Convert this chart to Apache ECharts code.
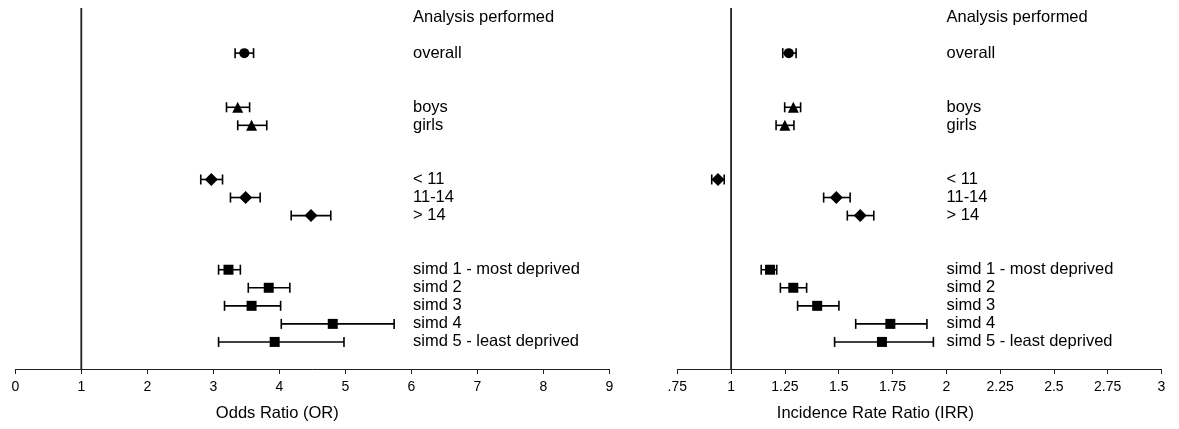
<!DOCTYPE html>
<html>
<head>
<meta charset="utf-8">
<script src="https://cdn.jsdelivr.net/npm/echarts@6/dist/echarts.min.js"></script>
<style>
  html, body { margin: 0; padding: 0; background: #fff; }
  #chart { width: 1179px; height: 429px; }
</style>
</head>
<body>
<div id="chart"></div>
<script>
// Row labels (top to bottom), gaps are empty strings
const rowLabels = ['Analysis performed', '', 'overall', '', '', 'boys', 'girls', '', '',
  '< 11', '11-14', '> 14', '', '', 'simd 1 - most deprived', 'simd 2', 'simd 3', 'simd 4',
  'simd 5 - least deprived', ''];

// Analysis groups
const groups = ['overall', 'boys', 'girls', '< 11', '11-14', '> 14',
  'simd 1 - most deprived', 'simd 2', 'simd 3', 'simd 4', 'simd 5 - least deprived'];

// Odds ratio (left panel)
const orEst = [3.47, 3.37, 3.58, 2.97, 3.49, 4.48, 3.23, 3.84, 3.58, 4.81, 3.93];
const orLo  = [3.33, 3.20, 3.37, 2.81, 3.26, 4.18, 3.08, 3.53, 3.17, 4.03, 3.08];
const orHi  = [3.61, 3.55, 3.81, 3.14, 3.71, 4.78, 3.41, 4.16, 4.02, 5.74, 4.98];

// Incidence rate ratio (right panel)
const irrEst = [1.268, 1.289, 1.250, 0.939, 1.489, 1.600, 1.181, 1.289, 1.400, 1.740, 1.701];
const irrLo  = [1.240, 1.249, 1.209, 0.910, 1.430, 1.540, 1.140, 1.229, 1.309, 1.579, 1.481];
const irrHi  = [1.302, 1.323, 1.292, 0.968, 1.553, 1.663, 1.212, 1.351, 1.501, 1.910, 1.940];

// Null-effect reference value (vertical line in both panels)
const nullValue = [1];

// Tick labels
const orTicks = ['0', '1', '2', '3', '4', '5', '6', '7', '8', '9'];
const irrTicks = ['.75', '1', '1.25', '1.5', '1.75', '2', '2.25', '2.5', '2.75', '3'];

// Marker style per group (style, not data)
const markerShapes = ['circle', 'triangle', 'triangle', 'diamond', 'diamond', 'diamond',
  'rect', 'rect', 'rect', 'rect', 'rect'];
const markerSizes = { circle: 10, triangle: 11, diamond: 13, rect: 10 };

const FONT = '"Liberation Sans", Arial, sans-serif';
const rowIndex = groups.map(g => rowLabels.indexOf(g));

function errData(lo, hi) {
  return groups.map((g, i) => [lo[i], hi[i], rowIndex[i]]);
}
function ptData(est) {
  return groups.map((g, i) => ({
    value: [est[i], rowIndex[i]],
    symbol: markerShapes[i],
    symbolSize: markerSizes[markerShapes[i]]
  }));
}

function renderErr(params, api) {
  const y = api.value(2);
  const a = api.coord([api.value(0), y]);
  const b = api.coord([api.value(1), y]);
  const h = 5;
  const st = { stroke: '#000', lineWidth: 1.6 };
  return {
    type: 'group',
    children: [
      { type: 'line', shape: { x1: a[0], y1: a[1], x2: b[0], y2: b[1] }, style: st },
      { type: 'line', shape: { x1: a[0], y1: a[1] - h, x2: a[0], y2: a[1] + h }, style: st },
      { type: 'line', shape: { x1: b[0], y1: b[1] - h, x2: b[0], y2: b[1] + h }, style: st }
    ]
  };
}

function renderRef(params, api) {
  const p = api.coord([api.value(0), 0]);
  const cs = params.coordSys;
  return {
    type: 'line',
    shape: { x1: p[0], y1: cs.y, x2: p[0], y2: cs.y + cs.height },
    style: { stroke: '#222', lineWidth: 1.8 }
  };
}

function xAxisDef(gridIndex, min, max, interval, ticks, name, padRight) {
  return {
    type: 'value', gridIndex, min, max, interval,
    axisLine: { show: true, onZero: false, lineStyle: { color: '#222', width: 1 } },
    axisTick: { show: true, length: 5, lineStyle: { color: '#222', width: 1 } },
    splitLine: { show: false },
    axisLabel: {
      margin: 11, color: '#000', fontFamily: FONT, fontSize: 14,
      formatter: v => ticks[Math.round((v - min) / interval)]
    },
    name, nameLocation: 'middle', nameGap: 36,
    nameTextStyle: { color: '#000', fontFamily: FONT, fontSize: 16.5, padding: [0, padRight, 0, 0] }
  };
}

function yAxisDef(gridIndex, offset) {
  return {
    type: 'category', gridIndex, data: rowLabels, inverse: true,
    position: 'right', offset,
    axisLine: { show: false }, axisTick: { show: false }, splitLine: { show: false },
    axisLabel: { interval: 0, margin: 0, color: '#000', fontFamily: FONT, fontSize: 16.5, align: 'left' }
  };
}

const chart = echarts.init(document.getElementById('chart'), null, { renderer: 'canvas' });
chart.setOption({
  animation: false,
  backgroundColor: '#fff',
  grid: [
    { left: 15.3, right: 1179 - 609.3, top: 8, bottom: 60, containLabel: false },
    { left: 677.3, right: 1179 - 1161.5, top: 8, bottom: 60, containLabel: false }
  ],
  xAxis: [
    xAxisDef(0, 0, 9, 1, orTicks, 'Odds Ratio (OR)', 70),
    xAxisDef(1, 0.75, 3, 0.25, irrTicks, 'Incidence Rate Ratio (IRR)', 88)
  ],
  yAxis: [
    yAxisDef(0, -(609.3 - 413)),
    yAxisDef(1, -(1161.5 - 946.5))
  ],
  series: [
    { type: 'custom', xAxisIndex: 0, yAxisIndex: 0, renderItem: renderRef,
      encode: { x: 0 }, data: nullValue.map(v => [v]), z: 1, silent: true },
    { type: 'custom', xAxisIndex: 0, yAxisIndex: 0, renderItem: renderErr,
      encode: { x: [0, 1], y: 2 }, data: errData(orLo, orHi), z: 2 },
    { type: 'scatter', xAxisIndex: 0, yAxisIndex: 0, data: ptData(orEst),
      itemStyle: { color: '#000', opacity: 1 }, z: 3 },
    { type: 'custom', xAxisIndex: 1, yAxisIndex: 1, renderItem: renderRef,
      encode: { x: 0 }, data: nullValue.map(v => [v]), z: 1, silent: true },
    { type: 'custom', xAxisIndex: 1, yAxisIndex: 1, renderItem: renderErr,
      encode: { x: [0, 1], y: 2 }, data: errData(irrLo, irrHi), z: 2 },
    { type: 'scatter', xAxisIndex: 1, yAxisIndex: 1, data: ptData(irrEst),
      itemStyle: { color: '#000', opacity: 1 }, z: 3 }
  ]
});
</script>
</body>
</html>
